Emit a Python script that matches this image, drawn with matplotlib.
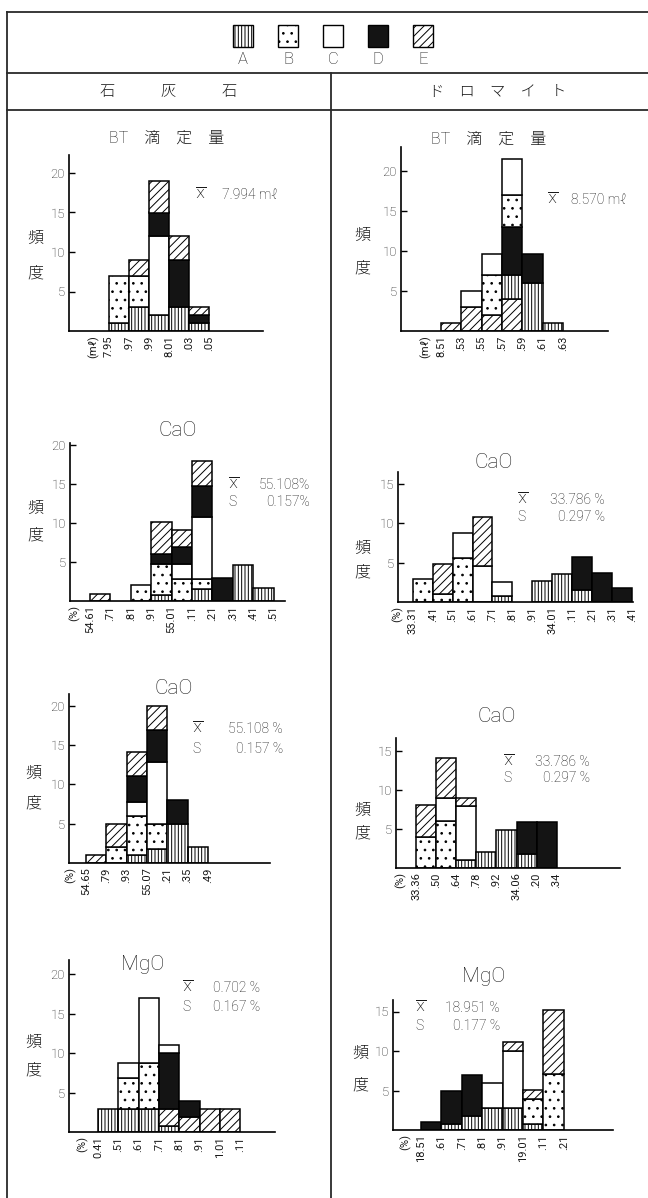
import matplotlib.pyplot as plt
from matplotlib.patches import Rectangle

plt.rcParams['font.family'] = ['Roboto', 'Noto Sans CJK JP', 'DejaVu Sans']
plt.rcParams['font.weight'] = 'light'
plt.rcParams['hatch.linewidth'] = 0.7

W, H = 648, 1198

groups = ['A', 'B', 'C', 'D', 'E']
fill = {'A': 'white', 'B': 'white', 'C': 'white', 'D': '#141414', 'E': 'white'}
hatch = {'A': '|||||', 'B': '..', 'C': None, 'D': None, 'E': '////'}

# --- data: bin edge labels, and per bin the stacked (group, count) pieces, bottom to top
bt_ls_edges = ['7.95', '.97', '.99', '8.01', '.03', '.05']
bt_ls_stacks = [
    [('A', 1), ('B', 6)],
    [('A', 3), ('B', 4), ('E', 2)],
    [('A', 2), ('C', 10), ('D', 3), ('E', 4)],
    [('A', 3), ('D', 6), ('E', 3)],
    [('A', 1), ('D', 1), ('E', 1)],
]

bt_dol_edges = ['8.51', '.53', '.55', '.57', '.59', '.61', '.63']
bt_dol_stacks = [
    [('E', 1)],
    [('E', 3), ('C', 2)],
    [('E', 2), ('B', 5), ('C', 2.7)],
    [('E', 4), ('A', 3), ('D', 6), ('B', 4), ('C', 4.5)],
    [('A', 6), ('D', 3.7)],
    [('A', 1)],
]

cao_ls1_edges = ['54.61', '.71', '.81', '.91', '55.01', '.11', '.21', '.31', '.41', '.51']
cao_ls1_stacks = [
    [('E', 0.9)],
    [],
    [('B', 2)],
    [('A', 0.8), ('B', 3.9), ('D', 1.3), ('E', 4.1)],
    [('B', 2.8), ('C', 1.9), ('D', 2.3), ('E', 2.1)],
    [('A', 1.6), ('B', 1.2), ('C', 8.0), ('D', 4.0), ('E', 3.2)],
    [('D', 3)],
    [('A', 4.6)],
    [('A', 1.7)],
]

cao_dol1_edges = ['33.31', '.41', '.51', '.61', '.71', '.81', '.91', '34.01', '.11', '.21', '.31', '.41']
cao_dol1_stacks = [
    [('B', 2.9)],
    [('B', 1), ('E', 3.8)],
    [('B', 5.6), ('C', 3.2)],
    [('C', 4.6), ('E', 6.2)],
    [('A', 0.8), ('C', 1.7)],
    [],
    [('A', 2.6)],
    [('A', 3.6)],
    [('A', 1.5), ('D', 4.2)],
    [('D', 3.7)],
    [('D', 1.8)],
]

cao_ls2_edges = ['54.65', '.79', '.93', '55.07', '.21', '.35', '.49']
cao_ls2_stacks = [
    [('E', 1)],
    [('B', 2), ('E', 3)],
    [('A', 1), ('B', 5), ('C', 1.8), ('D', 3.3), ('E', 3)],
    [('A', 1.8), ('B', 3.2), ('C', 7.8), ('D', 4.1), ('E', 3.1)],
    [('A', 5), ('D', 3)],
    [('A', 2)],
]

cao_dol2_edges = ['33.36', '.50', '.64', '.78', '.92', '34.06', '.20', '.34']
cao_dol2_stacks = [
    [('B', 4), ('E', 4)],
    [('B', 6), ('C', 3), ('E', 5)],
    [('A', 1), ('C', 6.9), ('E', 1)],
    [('A', 2)],
    [('A', 4.9)],
    [('A', 1.8), ('D', 4.1)],
    [('D', 5.9)],
]

mgo_ls_edges = ['0.41', '.51', '.61', '.71', '.81', '.91', '1.01', '.11']
mgo_ls_stacks = [
    [('A', 2.9)],
    [('A', 2.9), ('B', 3.9), ('C', 2)],
    [('A', 2.9), ('B', 5.8), ('C', 8.3)],
    [('A', 0.7), ('E', 2.2), ('D', 7.1), ('C', 1)],
    [('E', 1.9), ('D', 2)],
    [('E', 2.9)],
    [('E', 2.9)],
]

mgo_dol_edges = ['18.51', '.61', '.71', '.81', '.91', '19.01', '.11', '.21']
mgo_dol_stacks = [
    [('D', 1)],
    [('A', 0.8), ('D', 4.2)],
    [('A', 1.8), ('D', 5.1)],
    [('A', 2.8), ('C', 3.2)],
    [('A', 2.8), ('C', 7.2), ('E', 1.1)],
    [('A', 0.8), ('B', 3.1), ('E', 1.2)],
    [('B', 7.1), ('E', 8.1)],
]

fig = plt.figure(figsize=(W / 100, H / 100), dpi=100)
bg = fig.add_axes([0, 0, 1, 1])
bg.set_xlim(0, W)
bg.set_ylim(H, 0)
bg.axis('off')

tc = '#1a1a1a'

# frame and header
lc = '#2a2a2a'
bg.plot([7, W], [12, 12], color=lc, lw=1.3)
bg.plot([7, 7], [12, H], color=lc, lw=1.3)
bg.plot([7, W], [73, 73], color=lc, lw=1.3)
bg.plot([7, W], [110, 110], color=lc, lw=1.3)
bg.plot([331, 331], [73, H], color=lc, lw=1.3)

for i, g in enumerate(groups):
    cx = 243 + i * 45
    bg.add_patch(Rectangle((cx - 10, 25), 20, 22, facecolor=fill[g], hatch=hatch[g],
                           edgecolor='black', lw=1))
    bg.text(cx, 59, g, ha='center', va='center', fontsize=12, color=tc)

bg.text(169, 92, '石　　　灰　　　石', ha='center', va='center', fontsize=11, color=tc)
bg.text(498, 92, 'ド　ロ　マ　イ　ト', ha='center', va='center', fontsize=11, color=tc)


def panel(edges, stacks, unit, yticks, box):
    spine, base, ppu, first, binw, end, ytop = box
    ax = fig.add_axes([spine / W, (H - base) / H, (end - spine) / W, ytop * ppu / H])
    ax.patch.set_alpha(0)
    for i, stack in enumerate(stacks):
        bottom = 0
        for g, n in stack:
            ax.bar(i, n, width=1, bottom=bottom, align='edge', color=fill[g],
                   hatch=hatch[g], edgecolor='black', linewidth=1.1)
            bottom += n
    ax.set_xlim((spine - first) / binw, (end - first) / binw)
    ax.set_ylim(0, ytop)
    ax.set_xticks([-0.75] + list(range(len(edges))))
    ax.set_xticklabels([unit] + edges, rotation=90, fontsize=8, color=tc,
                       fontweight='normal')
    ax.set_yticks(yticks)
    ax.set_yticklabels([str(t) for t in yticks], fontsize=9.5, color=tc)
    ax.tick_params(axis='x', length=0, pad=3)
    ax.tick_params(axis='y', direction='in', length=4, width=1, pad=3)
    for s in ['top', 'right']:
        ax.spines[s].set_visible(False)
    for s in ['left', 'bottom']:
        ax.spines[s].set_linewidth(1.2)
    return ax


def stats(xl, xr, y, mean, y2=None, sd=None):
    bg.text(xl, y, r'$\overline{\mathrm{X}}$', ha='left', va='center', fontsize=9.5, color=tc)
    bg.text(xr, y, mean, ha='right', va='center', fontsize=10, color=tc)
    if sd is not None:
        bg.text(xl, y2, 'S', ha='left', va='center', fontsize=10, color=tc)
        bg.text(xr, y2, sd, ha='right', va='center', fontsize=10, color=tc)


def ylab(x, y1, y2):
    bg.text(x, y1, '頻', ha='center', va='center', fontsize=11.5, color=tc)
    bg.text(x, y2, '度', ha='center', va='center', fontsize=11.5, color=tc)


# row 1: BT titration
panel(bt_ls_edges, bt_ls_stacks, '(mℓ)', [5, 10, 15, 20], (69, 331, 7.9, 109, 20, 263, 22.3))
bg.text(167, 138, 'BT　滴　定　量', ha='center', va='center', fontsize=11.5, color=tc)
stats(195, 278, 195, '7.994 mℓ')
ylab(35, 238, 273)

panel(bt_dol_edges, bt_dol_stacks, '(mℓ)', [5, 10, 15, 20], (401, 331, 7.98, 441, 20.3, 608, 23.1))
bg.text(489, 139, 'BT　滴　定　量', ha='center', va='center', fontsize=11.5, color=tc)
stats(547, 627, 200, '8.570 mℓ')
ylab(362, 235, 268)

# row 2: CaO
panel(cao_ls1_edges, cao_ls1_stacks, '(%)', [5, 10, 15, 20], (70, 601, 7.78, 90, 20.4, 285, 20.3))
bg.text(178, 431, 'CaO', ha='center', va='center', fontsize=15, color=tc)
stats(228, 310, 485, '55.108%', 502, '0.157%')
ylab(35, 508, 535)

panel(cao_dol1_edges, cao_dol1_stacks, '(%)', [5, 10, 15], (398, 602, 7.89, 404, 20.7, 633, 16.5))
bg.text(494, 463, 'CaO', ha='center', va='center', fontsize=15, color=tc)
stats(517, 605, 500, '33.786 %', 517, '0.297 %')
ylab(362, 548, 572)

# row 3: CaO
panel(cao_ls2_edges, cao_ls2_stacks, '(%)', [5, 10, 15, 20], (69, 863, 7.87, 86, 20.3, 270, 21.5))
bg.text(174, 688, 'CaO', ha='center', va='center', fontsize=15, color=tc)
stats(192, 283, 729, '55.108 %', 749, '0.157 %')
ylab(33, 773, 803)

panel(cao_dol2_edges, cao_dol2_stacks, '(%)', [5, 10, 15], (396, 868, 7.83, 416, 20.1, 620, 16.6))
bg.text(497, 717, 'CaO', ha='center', va='center', fontsize=15, color=tc)
stats(503, 590, 762, '33.786 %', 778, '0.297 %')
ylab(362, 810, 833)

# row 4: MgO
panel(mgo_ls_edges, mgo_ls_stacks, '(%)', [5, 10, 15, 20], (69, 1132, 7.89, 98, 20.3, 275, 21.8))
bg.text(143, 965, 'MgO', ha='center', va='center', fontsize=15, color=tc)
stats(182, 260, 988, '0.702 %', 1007, '0.167 %')
ylab(33, 1042, 1070)

panel(mgo_dol_edges, mgo_dol_stacks, '(%)', [5, 10, 15], (393, 1130, 7.9, 421, 20.4, 613, 16.5))
bg.text(484, 976, 'MgO', ha='center', va='center', fontsize=15, color=tc)
stats(415, 500, 1008, '18.951 %', 1026, '0.177 %')
ylab(360, 1053, 1085)

fig.savefig('out.png', dpi=100)
